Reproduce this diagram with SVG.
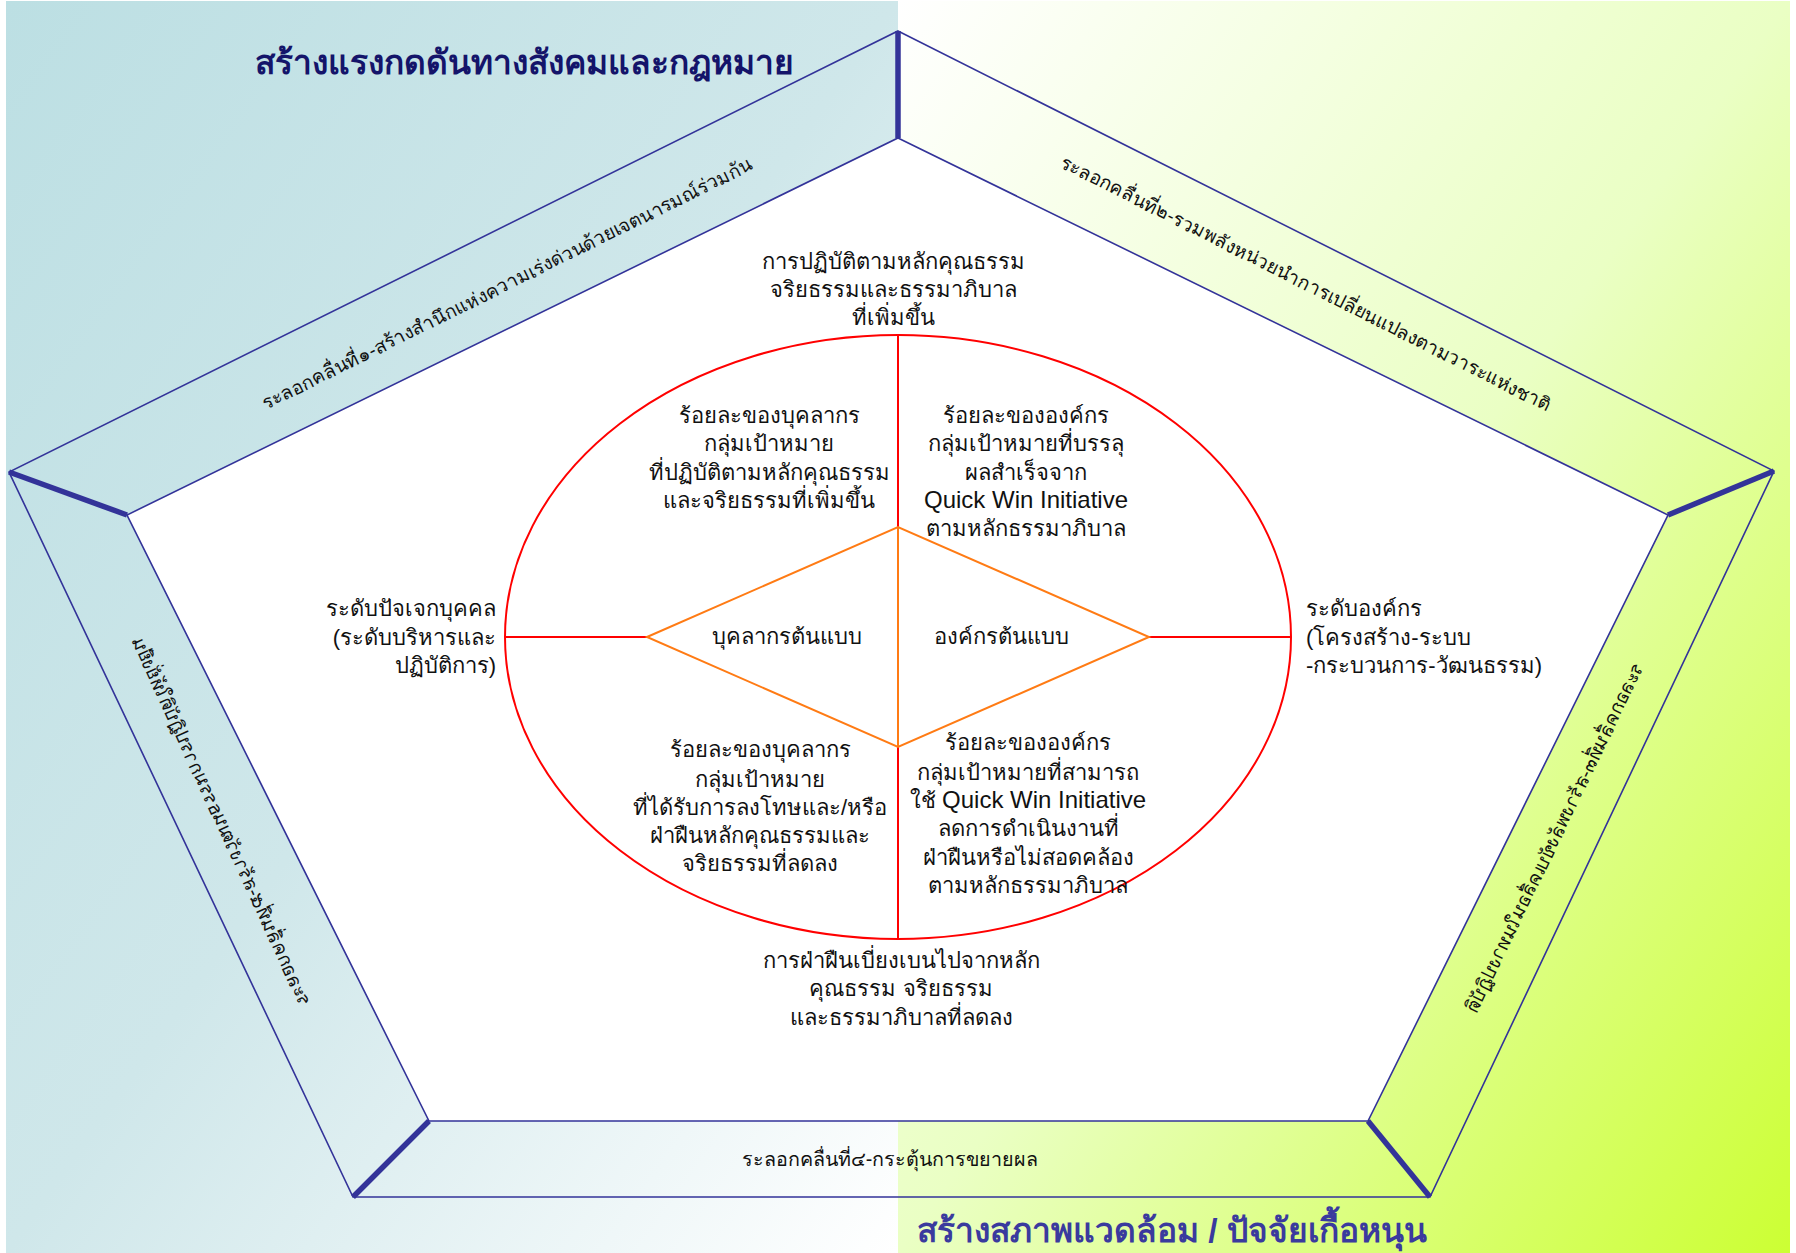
<svg xmlns="http://www.w3.org/2000/svg" width="1796" height="1253" viewBox="0 0 1796 1253">
  <defs>
    <linearGradient id="gLeft" x1="0" y1="0" x2="1" y2="1">
      <stop offset="0" stop-color="#bcdfe3"/>
      <stop offset="0.5" stop-color="#cfe7ea"/>
      <stop offset="1" stop-color="#ffffff"/>
    </linearGradient>
    <linearGradient id="gRight" x1="0" y1="0" x2="1" y2="1">
      <stop offset="0" stop-color="#ffffff"/>
      <stop offset="0.5" stop-color="#eaffc4"/>
      <stop offset="1" stop-color="#ccff33"/>
    </linearGradient>
    <style>
      text { font-family: 'Liberation Sans', sans-serif; fill: #111111; }
      .lbl { font-size: 22px; text-anchor: middle; }
      .lat { font-size: 24px; }
      .band { font-size: 19px; text-anchor: middle; }
      .title { font-size: 33.5px; font-weight: bold; text-anchor: middle; }
      .edge { fill: none; stroke: #333399; stroke-width: 1.6; }
      .inner { fill: #ffffff; stroke: #333399; stroke-width: 1.6; }
      .thick { stroke: #333399; stroke-width: 5.5; stroke-linecap: butt; }
      .red { stroke: #ff0000; stroke-width: 2; fill: none; }
      .orange { stroke: #ff7b14; stroke-width: 2; fill: none; }
    </style>
  </defs>

  <!-- background -->
  <rect x="0" y="0" width="1796" height="1253" fill="#ffffff"/>
  <rect x="6" y="1" width="892" height="1252" fill="url(#gLeft)"/>
  <rect x="898" y="1" width="892" height="1252" fill="url(#gRight)"/>

  <!-- pentagon frame -->
  <g id="frame">
    <polygon class="edge" points="898,31 1774,471 1430,1197 353,1197 9,472"/>
    <polygon class="inner" points="898,138 1668,515 1368,1121 429,1121 127,515"/>
    <line class="thick" x1="898" y1="31" x2="898" y2="138"/>
    <line class="thick" x1="1774" y1="471" x2="1668" y2="515"/>
    <line class="thick" x1="1430" y1="1197" x2="1368" y2="1121"/>
    <line class="thick" x1="353" y1="1197" x2="429" y2="1121"/>
    <line class="thick" x1="9" y1="472" x2="127" y2="515"/>
  </g>

  <!-- connectors: ellipse, dividers, diamond -->
  <g id="connectors">
    <ellipse class="red" cx="898" cy="637" rx="393" ry="302"/>
    <line class="red" x1="898" y1="335" x2="898" y2="527"/>
    <line class="red" x1="898" y1="747" x2="898" y2="939"/>
    <line class="red" x1="505" y1="637" x2="647" y2="637"/>
    <line class="red" x1="1149" y1="637" x2="1291" y2="637"/>
    <polygon class="orange" points="647,637 898,527 1149,637 898,747"/>
    <line class="orange" x1="898" y1="527" x2="898" y2="747"/>
  </g>

  <!-- titles -->
  <g id="title-top">
    <text class="title" x="524" y="74" style="fill:#14146a">สร้างแรงกดดันทางสังคมและกฎหมาย</text>
  </g>
  <g id="title-bottom">
    <text class="title" x="1172" y="1242" style="fill:#3a3a9e">สร้างสภาพแวดล้อม / ปัจจัยเกื้อหนุน</text>
  </g>

  <!-- wave bands -->
  <g id="wave1">
    <text class="band" transform="translate(507,283) rotate(-26.3)" y="7">ระลอกคลื่นที่๑-สร้างสำนึกแห่งความเร่งด่วนด้วยเจตนารมณ์ร่วมกัน</text>
  </g>
  <g id="wave2">
    <text class="band" transform="translate(1306,283) rotate(26.7)" y="7">ระลอกคลื่นที่๒-รวมพลังหน่วยนำการเปลี่ยนแปลงตามวาระแห่งชาติ</text>
  </g>
  <g id="wave3">
    <text class="band" transform="translate(1554,837) rotate(115.8) scale(1,-1)" y="7">ระลอกคลื่นที่๓-สร้างพลังขับเคลื่อนในทางปฏิบัติ</text>
  </g>
  <g id="wave4">
    <text class="band" x="890" y="1166" style="font-size:19.7px">ระลอกคลื่นที่๔-กระตุ้นการขยายผล</text>
  </g>
  <g id="wave5">
    <text class="band" transform="translate(222,821) rotate(-114.7) scale(1,-1)" y="7">ระลอกคลื่นที่๕-สร้างวัฒนธรรมการปฏิบัติให้ยั่งยืน</text>
  </g>

  <!-- outcome labels -->
  <g id="top-outcome">
    <text class="lbl" x="893" y="269">การปฏิบัติตามหลักคุณธรรม</text>
    <text class="lbl" x="893" y="297">จริยธรรมและธรรมาภิบาล</text>
    <text class="lbl" x="893" y="325">ที่เพิ่มขึ้น</text>
  </g>
  <g id="bottom-outcome">
    <text class="lbl" x="901" y="968">การฝ่าฝืนเบี่ยงเบนไปจากหลัก</text>
    <text class="lbl" x="901" y="996">คุณธรรม จริยธรรม</text>
    <text class="lbl" x="901" y="1025">และธรรมาภิบาลที่ลดลง</text>
  </g>
  <g id="level-individual">
    <text class="lbl" x="496" y="616" style="text-anchor:end">ระดับปัจเจกบุคคล</text>
    <text class="lbl" x="496" y="645" style="text-anchor:end">(ระดับบริหารและ</text>
    <text class="lbl" x="496" y="673" style="text-anchor:end">ปฏิบัติการ)</text>
  </g>
  <g id="level-organization">
    <text class="lbl" x="1306" y="616" style="text-anchor:start">ระดับองค์กร</text>
    <text class="lbl" x="1306" y="645" style="text-anchor:start">(โครงสร้าง-ระบบ</text>
    <text class="lbl" x="1306" y="673" style="text-anchor:start">-กระบวนการ-วัฒนธรรม)</text>
  </g>

  <!-- quadrants -->
  <g id="q-top-left">
    <text class="lbl" x="769" y="423">ร้อยละของบุคลากร</text>
    <text class="lbl" x="769" y="451">กลุ่มเป้าหมาย</text>
    <text class="lbl" x="769" y="480">ที่ปฏิบัติตามหลักคุณธรรม</text>
    <text class="lbl" x="769" y="508">และจริยธรรมที่เพิ่มขึ้น</text>
  </g>
  <g id="q-top-right">
    <text class="lbl" x="1026" y="423">ร้อยละขององค์กร</text>
    <text class="lbl" x="1026" y="451">กลุ่มเป้าหมายที่บรรลุ</text>
    <text class="lbl" x="1026" y="480">ผลสำเร็จจาก</text>
    <text class="lbl lat" x="1026" y="508">Quick Win Initiative</text>
    <text class="lbl" x="1026" y="536">ตามหลักธรรมาภิบาล</text>
  </g>
  <g id="q-bottom-left">
    <text class="lbl" x="760" y="757">ร้อยละของบุคลากร</text>
    <text class="lbl" x="760" y="787">กลุ่มเป้าหมาย</text>
    <text class="lbl" x="760" y="815">ที่ได้รับการลงโทษและ/หรือ</text>
    <text class="lbl" x="760" y="843">ฝ่าฝืนหลักคุณธรรมและ</text>
    <text class="lbl" x="760" y="871">จริยธรรมที่ลดลง</text>
  </g>
  <g id="q-bottom-right">
    <text class="lbl" x="1028" y="750">ร้อยละขององค์กร</text>
    <text class="lbl" x="1028" y="780">กลุ่มเป้าหมายที่สามารถ</text>
    <text class="lbl" x="1028" y="808">ใช้ <tspan class="lat">Quick Win Initiative</tspan></text>
    <text class="lbl" x="1028" y="836">ลดการดำเนินงานที่</text>
    <text class="lbl" x="1028" y="865">ฝ่าฝืนหรือไม่สอดคล้อง</text>
    <text class="lbl" x="1028" y="893">ตามหลักธรรมาภิบาล</text>
  </g>
  <g id="model-person">
    <text class="lbl" x="787" y="644">บุคลากรต้นแบบ</text>
  </g>
  <g id="model-org">
    <text class="lbl" x="1001" y="644">องค์กรต้นแบบ</text>
  </g>
</svg>
